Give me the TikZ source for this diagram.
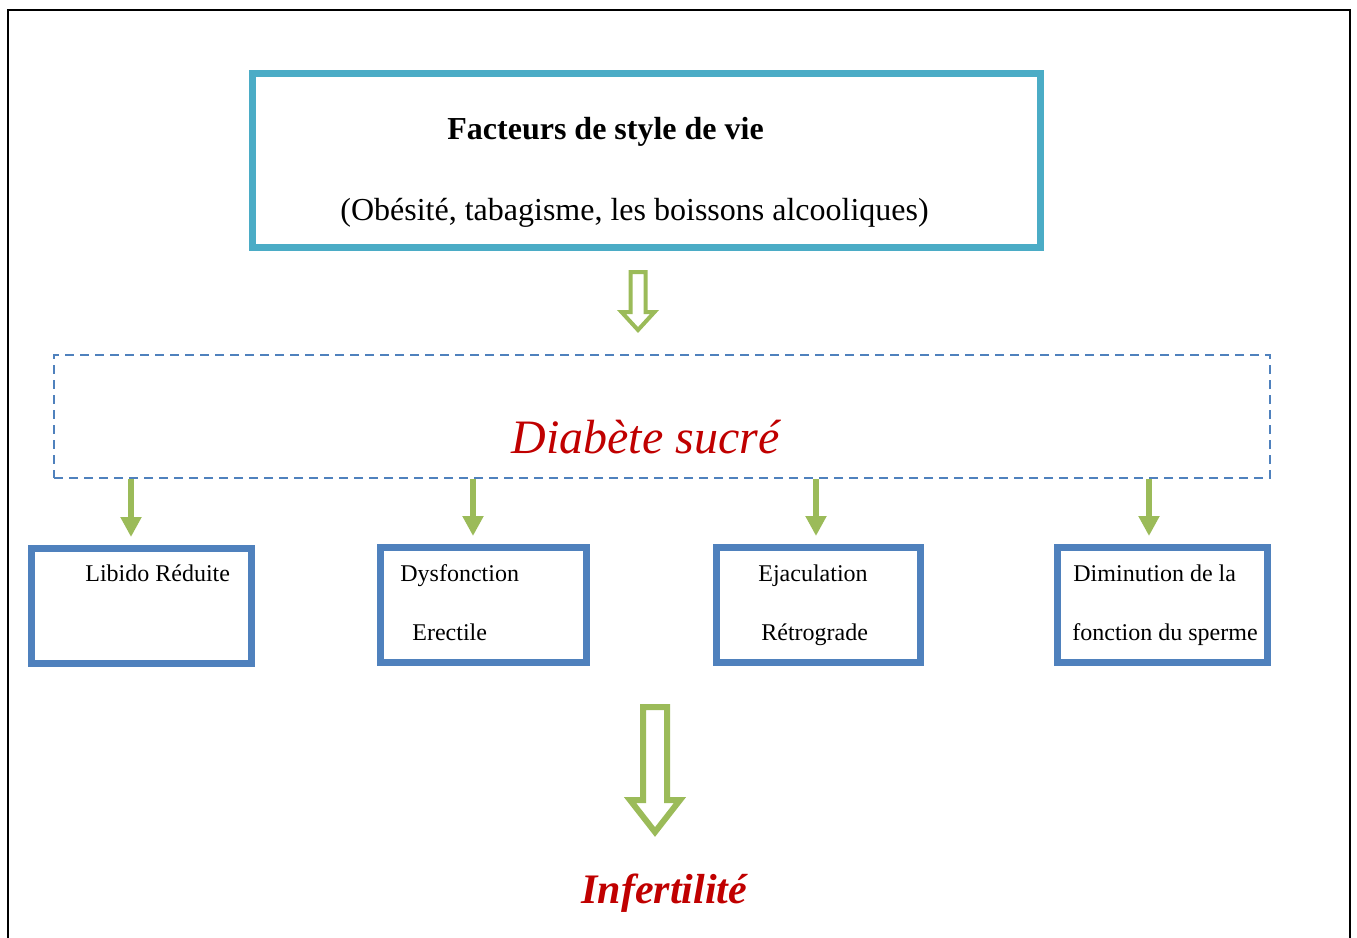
\documentclass[tikz,border=0pt]{standalone}
\usepackage{fontspec}
\setmainfont{Liberation Serif}
\usetikzlibrary{arrows.meta}
\definecolor{tealline}{HTML}{4BACC6}
\definecolor{boxblue}{HTML}{4F81BD}
\definecolor{arrgreen}{HTML}{9BBB59}
\definecolor{darkred}{HTML}{C00000}

% hollow down arrow: x, top, head base, tip, shaft half width, head half width
\newcommand{\hollowdown}[7]{%
  \draw[arrgreen, line width=#7, line join=miter, fill=white]
    (#1-#5,#2) -- (#1+#5,#2) -- (#1+#5,#3) -- (#1+#6,#3) -- (#1,#4)
    -- (#1-#6,#3) -- (#1-#5,#3) -- cycle;}

\begin{document}
\begin{tikzpicture}[x=0.5pt, y=-0.5pt,
  topbox/.style={draw=tealline, line width=3.5pt, minimum width=394pt, minimum height=87pt},
  diabbox/.style={draw=boxblue, line width=1.4pt, dash pattern=on 4.5pt off 3pt,
    minimum width=608pt, minimum height=61.5pt},
  effbox/.style={draw=boxblue, line width=3.5pt, minimum height=57.5pt},
  txt/.style={anchor=base west, inner sep=0pt, font=\fontsize{12}{14}\selectfont},
  bigtxt/.style={anchor=base west, inner sep=0pt, font=\fontsize{16}{19}\selectfont},
  smallarr/.style={arrgreen, line width=3pt, -{Triangle[width=10pt,length=10pt]}}
]
\useasboundingbox (0,0) rectangle (1357,938);
% frame, open at the bottom
\draw[line width=1pt] (8,938) -- (8,10) -- (1350,10) -- (1350,938);

% lifestyle box
\node[topbox] (life) at (646,160) {};
\node[bigtxt, font=\fontsize{16}{19}\selectfont\bfseries] (lifettl) at (447,139) {Facteurs de style de vie};
\node[bigtxt] (lifelst) at (340,220) {(Obésité, tabagisme, les boissons alcooliques)};

\hollowdown{638}{272}{312}{330}{7.5}{16.5}{2pt}

% diabetes
\node[diabbox] (diab) at (662,416.5) {};
\node[anchor=base west, inner sep=0pt, text=darkred,
  font=\fontsize{24}{28}\selectfont\itshape] (diabtxt) at (511,453) {Diabète sucré};

% effects
\node[effbox, minimum width=110pt] (lib) at (141,606) {};
\node[effbox, minimum width=103pt] (dys) at (483.5,605) {};
\node[effbox, minimum width=102pt] (eja) at (818,605) {};
\node[effbox, minimum width=105pt] (dim) at (1162,605) {};

\node[txt] (libt) at (85,581) {Libido Réduite};
\node[txt] (dyst1) at (400,581) {Dysfonction};
\node[txt] (dyst2) at (412,640) {Erectile};
\node[txt] (ejat1) at (758,581) {Ejaculation};
\node[txt] (ejat2) at (761,640) {Rétrograde};
\node[txt] (dimt1) at (1073,581) {Diminution de la};
\node[txt] (dimt2) at (1072,640) {fonction du sperme};

\draw[smallarr] ([xshift=-5pt]diab.south -| lib.north) -- ([xshift=-5pt,yshift=4pt]lib.north);
\draw[smallarr] ([xshift=-5.25pt]diab.south -| dys.north) -- ([xshift=-5.25pt,yshift=4pt]dys.north);
\draw[smallarr] ([xshift=-1pt]diab.south -| eja.north) -- ([xshift=-1pt,yshift=4pt]eja.north);
\draw[smallarr] ([xshift=-6.5pt]diab.south -| dim.north) -- ([xshift=-6.5pt,yshift=4pt]dim.north);

\hollowdown{655}{707}{800}{832}{12}{25}{3pt}

% outcome
\node[anchor=base west, inner sep=0pt, text=darkred,
  font=\fontsize{21}{25}\selectfont\bfseries\itshape] (inf) at (581,903) {Infertilité};
\end{tikzpicture}
\end{document}
